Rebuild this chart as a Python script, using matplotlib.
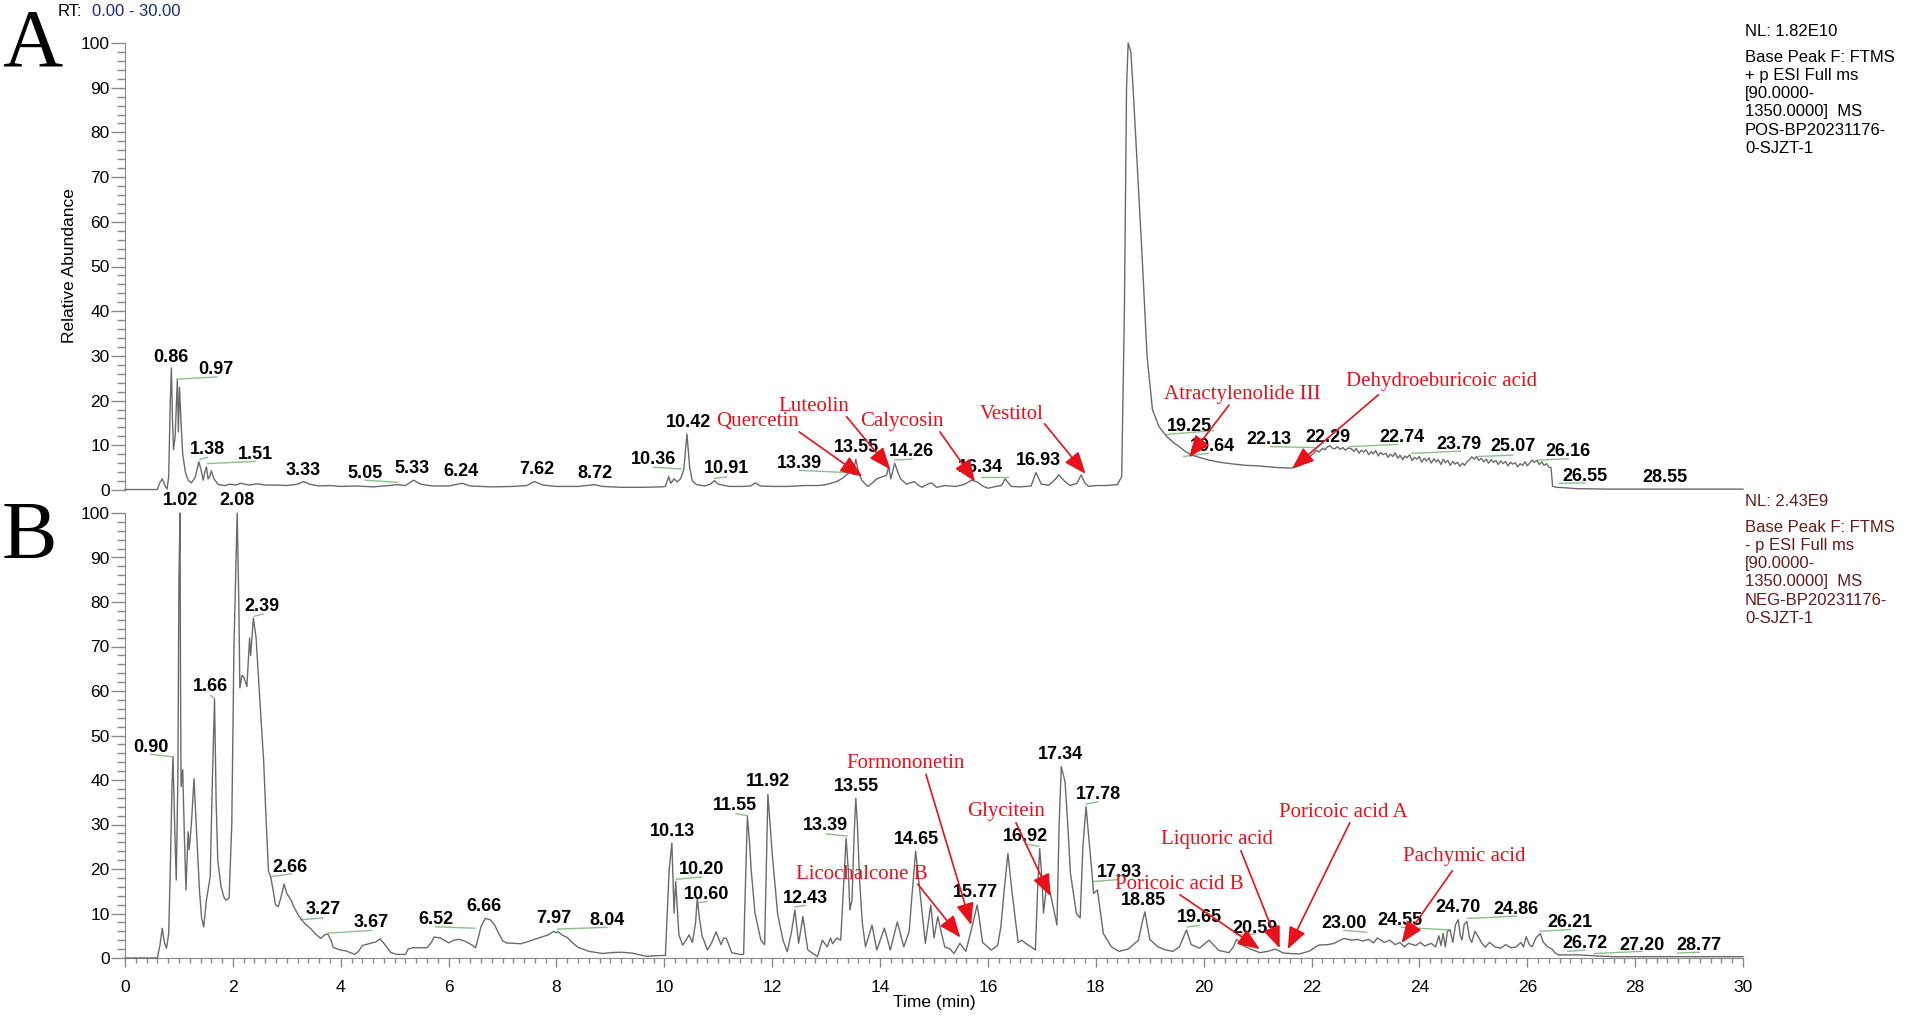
import matplotlib
matplotlib.use("Agg")
import matplotlib.pyplot as plt
from matplotlib.ticker import MultipleLocator

# ---------------- data: chromatogram A (positive mode) ----------------
tA = [0.00, 0.60, 0.64, 0.69, 0.74, 0.78, 0.81, 0.84, 0.86, 0.88, 0.90, 0.93, 0.97, 0.99, 1.01, 1.04,
      1.07, 1.12, 1.17, 1.23, 1.30, 1.37, 1.41, 1.45, 1.48, 1.51, 1.54, 1.57, 1.60, 1.65, 1.73, 1.85,
      1.95, 2.05, 2.15, 2.30, 2.45, 2.60, 2.80, 3.00, 3.20, 3.31, 3.42, 3.60, 3.80, 4.00, 4.30, 4.60,
      4.90, 5.05, 5.20, 5.35, 5.48, 5.70, 6.00, 6.25, 6.40, 6.80, 7.20, 7.45, 7.59, 7.75, 8.00, 8.40,
      8.70, 8.85, 9.20, 9.60, 9.95, 10.02, 10.08, 10.12, 10.18, 10.24, 10.30, 10.36, 10.42, 10.47,
      10.52, 10.60, 10.75, 10.85, 10.93, 11.00, 11.20, 11.45, 11.60, 11.69, 11.78, 12.00, 12.30,
      12.60, 12.85, 13.00, 13.20, 13.30, 13.38, 13.45, 13.50, 13.55, 13.60, 13.66, 13.77, 13.85,
      13.94, 14.05, 14.12, 14.16, 14.20, 14.27, 14.33, 14.38, 14.49, 14.63, 14.72, 14.78, 14.88,
      14.95, 15.05, 15.20, 15.40, 15.55, 15.70, 15.80, 15.90, 16.00, 16.15, 16.25, 16.32, 16.43,
      16.60, 16.80, 16.89, 16.99, 17.13, 17.25, 17.31, 17.42, 17.52, 17.65, 17.73, 17.80, 17.87,
      18.00, 18.20, 18.40, 18.48, 18.53, 18.57, 18.60, 18.65, 18.70, 18.78, 18.86, 18.95, 19.05,
      19.17, 19.32, 19.45, 19.55, 19.66, 19.78, 19.95, 20.09, 20.30, 20.56, 20.80, 21.00, 21.19,
      21.40, 21.62, 21.72, 21.80, 21.90, 21.98, 22.04, 22.09, 22.14, 22.20, 22.25, 22.29, 22.34,
      22.38, 22.43, 22.48, 22.53, 22.58, 22.63, 22.68, 22.74, 22.79, 22.83, 22.88, 22.92, 22.97,
      23.01, 23.06, 23.11, 23.14, 23.19, 23.24, 23.28, 23.33, 23.38, 23.42, 23.46, 23.51, 23.55,
      23.60, 23.64, 23.69, 23.73, 23.77, 23.82, 23.86, 23.91, 23.95, 24.00, 24.04, 24.09, 24.13,
      24.18, 24.22, 24.27, 24.31, 24.35, 24.40, 24.44, 24.48, 24.53, 24.57, 24.62, 24.66, 24.71,
      24.75, 24.80, 24.84, 24.88, 24.93, 24.97, 25.02, 25.06, 25.10, 25.15, 25.19, 25.24, 25.28,
      25.33, 25.37, 25.42, 25.46, 25.51, 25.55, 25.60, 25.64, 25.69, 25.73, 25.78, 25.82, 25.87,
      25.91, 25.96, 26.00, 26.05, 26.09, 26.13, 26.18, 26.22, 26.27, 26.31, 26.36, 26.40, 26.44,
      26.47, 26.55, 26.70, 26.90, 27.50, 30.00]
iA = [0.1, 0.1, 1.5, 2.5, 1.0, 0.2, 3.0, 20.0, 27.3, 16.0, 9.0, 12.0, 24.6, 13.0, 23.0, 15.0,
      8.0, 4.0, 2.2, 1.6, 2.8, 6.3, 4.5, 2.2, 4.0, 5.2, 2.5, 3.0, 4.3, 2.5, 1.2, 1.0,
      1.3, 1.1, 1.5, 1.1, 1.4, 1.1, 1.1, 1.0, 1.3, 1.9, 1.3, 0.9, 1.0, 0.8, 0.9, 0.7,
      1.0, 1.2, 1.0, 2.2, 1.3, 0.9, 0.9, 1.5, 0.9, 0.7, 0.8, 1.0, 1.9, 1.1, 0.8, 0.8,
      1.2, 0.8, 0.6, 0.6, 0.7, 0.8, 3.0, 1.5, 2.5, 1.8, 2.5, 4.5, 12.5, 5.0,
      2.0, 1.2, 0.9, 1.3, 2.1, 1.3, 0.8, 0.8, 0.9, 1.6, 0.9, 0.8, 0.8,
      1.0, 1.0, 1.2, 1.9, 2.6, 3.4, 4.2, 3.5, 6.9, 4.0, 2.2, 0.8, 1.5,
      2.5, 3.0, 3.3, 5.2, 2.5, 6.0, 4.0, 2.5, 1.3, 1.9, 1.0, 0.6, 1.3,
      1.6, 0.6, 1.0, 0.8, 1.2, 2.2, 1.8, 0.9, 0.4, 0.8, 1.0, 2.5, 0.8,
      0.7, 0.9, 3.9, 1.3, 1.1, 2.4, 3.4, 2.0, 1.0, 1.5, 3.4, 1.5, 0.8,
      1.0, 1.0, 1.2, 3.0, 40.0, 90.0, 100.0, 98.0, 88.0, 70.0, 52.0, 30.0, 18.0,
      14.2, 11.9, 10.5, 9.7, 8.6, 7.8, 7.2, 6.7, 6.2, 5.8, 5.5, 5.4, 5.2,
      5.0, 4.9, 5.2, 5.6, 6.8, 7.6, 8.2, 8.9, 8.5, 9.3, 9.0, 9.6, 9.9,
      9.4, 9.2, 9.7, 9.1, 9.5, 8.9, 9.4, 9.2, 8.6, 9.3, 8.2, 8.9, 8.5,
      9.0, 7.9, 8.6, 8.1, 8.8, 7.6, 8.4, 7.9, 8.2, 7.3, 8.0, 7.5, 8.3,
      7.1, 7.8, 6.8, 7.6, 7.2, 7.9, 6.6, 7.3, 6.9, 7.5, 6.2, 7.1, 6.5,
      7.2, 6.0, 7.0, 6.3, 6.8, 5.7, 6.9, 6.1, 6.6, 5.5, 6.4, 5.8, 6.2,
      5.3, 6.0, 5.5, 6.3, 6.8, 7.4, 6.9, 7.5, 6.6, 7.1, 6.3, 6.9, 6.0,
      6.8, 6.2, 6.6, 5.7, 6.5, 5.9, 6.4, 5.4, 6.2, 5.8, 6.1, 5.2, 5.9,
      5.5, 6.3, 5.4, 6.1, 6.7, 6.2, 6.6, 5.7, 6.3, 5.5, 5.9, 5.1, 5.0,
      0.8, 0.6, 0.5, 0.3, 0.2, 0.2]

# ---------------- data: chromatogram B (negative mode) ----------------
tB = [0.00, 0.60, 0.65, 0.69, 0.73, 0.77, 0.81, 0.84, 0.87, 0.89, 0.92, 0.95, 0.98, 1.00, 1.02, 1.03,
      1.04, 1.07, 1.10, 1.13, 1.17, 1.19, 1.23, 1.28, 1.32, 1.38, 1.42, 1.46, 1.51, 1.58, 1.62, 1.66,
      1.69, 1.72, 1.78, 1.84, 1.88, 1.93, 1.98, 2.02, 2.08, 2.11, 2.13, 2.17, 2.20, 2.26, 2.31, 2.33,
      2.38, 2.43, 2.48, 2.53, 2.57, 2.62, 2.66, 2.70, 2.75, 2.79, 2.84, 2.90, 2.95, 3.00, 3.08, 3.13,
      3.22, 3.33, 3.45, 3.55, 3.63, 3.70, 3.76, 3.82, 3.86, 3.99, 4.10, 4.26, 4.33, 4.40, 4.55, 4.65,
      4.73, 4.82, 4.93, 5.05, 5.20, 5.25, 5.33, 5.60, 5.68, 5.73, 5.85, 6.00, 6.10, 6.20, 6.30, 6.45,
      6.50, 6.56, 6.60, 6.68, 6.77, 6.85, 6.93, 7.00, 7.07, 7.20, 7.34, 7.50, 7.67, 7.85, 7.95, 7.99,
      8.03, 8.10, 8.20, 8.30, 8.40, 8.60, 8.86, 9.00, 9.20, 9.40, 9.66, 10.02, 10.09, 10.14, 10.18,
      10.21, 10.27, 10.34, 10.40, 10.46, 10.52, 10.58, 10.61, 10.65, 10.70, 10.80, 10.88, 10.96,
      11.05, 11.10, 11.15, 11.25, 11.40, 11.47, 11.50, 11.54, 11.58, 11.61, 11.68, 11.79, 11.86,
      11.89, 11.92, 11.96, 12.00, 12.10, 12.20, 12.28, 12.36, 12.42, 12.49, 12.57, 12.66, 12.84,
      12.93, 13.02, 13.08, 13.12, 13.20, 13.27, 13.33, 13.37, 13.41, 13.44, 13.48, 13.52, 13.55,
      13.58, 13.62, 13.67, 13.73, 13.85, 13.94, 14.08, 14.19, 14.32, 14.44, 14.54, 14.59, 14.66,
      14.73, 14.80, 14.84, 14.94, 15.00, 15.07, 15.14, 15.20, 15.30, 15.37, 15.48, 15.59, 15.70,
      15.80, 15.85, 15.90, 16.06, 16.18, 16.24, 16.30, 16.37, 16.45, 16.56, 16.63, 16.70, 16.80,
      16.88, 16.92, 16.96, 17.00, 17.03, 17.10, 17.17, 17.28, 17.32, 17.36, 17.43, 17.48, 17.53,
      17.64, 17.71, 17.76, 17.82, 17.87, 17.93, 17.96, 18.03, 18.14, 18.29, 18.43, 18.60, 18.79,
      18.86, 18.91, 19.00, 19.15, 19.30, 19.43, 19.55, 19.62, 19.68, 19.77, 19.92, 20.10, 20.28,
      20.47, 20.55, 20.61, 20.70, 20.83, 21.04, 21.19, 21.33, 21.48, 21.77, 21.95, 22.13, 22.30,
      22.42, 22.60, 22.75, 22.85, 22.95, 23.06, 23.15, 23.22, 23.35, 23.45, 23.55, 23.64, 23.72,
      23.80, 23.93, 24.02, 24.10, 24.22, 24.30, 24.36, 24.40, 24.44, 24.48, 24.52, 24.57, 24.62,
      24.67, 24.72, 24.76, 24.79, 24.83, 24.88, 24.93, 24.97, 25.03, 25.08, 25.15, 25.22, 25.30,
      25.40, 25.51, 25.60, 25.70, 25.80, 25.88, 25.93, 25.98, 26.04, 26.09, 26.16, 26.24, 26.30,
      26.38, 26.46, 26.52, 26.58, 26.95, 27.38, 27.60, 30.00]
iB = [0.0, 0.0, 3.0, 6.7, 3.5, 2.2, 5.4, 20.0, 38.0, 45.2, 30.0, 17.5, 40.0, 85.0, 100.0, 60.0,
      38.5, 42.3, 28.0, 15.3, 28.4, 24.3, 30.0, 40.3, 30.0, 15.3, 9.0, 7.0, 13.0, 18.3, 40.0, 58.1,
      35.0, 22.0, 16.0, 13.5, 13.0, 13.5, 30.0, 70.0, 100.0, 80.0, 60.7, 63.5, 63.2, 61.0, 71.9, 68.0,
      76.4, 72.0, 62.0, 52.0, 44.5, 30.0, 19.5, 18.3, 15.0, 12.0, 11.5, 14.0, 16.6, 14.5, 13.0, 11.5,
      9.5, 7.8, 6.5, 5.2, 4.4, 5.2, 5.4, 4.0, 2.4, 1.8, 1.6, 0.8, 1.5, 2.8, 3.3, 3.6,
      4.3, 3.0, 1.2, 0.8, 0.8, 2.0, 2.3, 2.3, 3.5, 4.7, 4.5, 3.4, 4.0, 4.2, 3.8, 2.8,
      2.3, 5.0, 7.0, 8.9, 8.6, 7.5, 5.5, 3.9, 3.4, 3.3, 3.2, 3.8, 4.5, 5.2, 6.0, 5.7,
      5.9, 5.2, 4.6, 3.4, 2.4, 1.5, 1.0, 1.2, 1.3, 1.1, 0.4, 0.6, 20.0, 25.8, 10.1,
      17.2, 5.2, 2.9, 4.0, 5.2, 3.5, 8.0, 13.4, 9.0, 5.0, 1.8, 3.5, 5.9,
      3.0, 4.5, 4.4, 1.2, 0.8, 0.8, 15.0, 31.8, 26.0, 19.8, 10.1, 4.0, 3.0,
      20.0, 36.8, 30.0, 23.5, 10.0, 4.0, 1.4, 6.0, 10.8, 3.3, 9.3, 1.8, 0.3,
      4.0, 2.5, 4.5, 3.2, 4.5, 4.0, 18.0, 26.9, 20.0, 10.8, 13.0, 28.0, 35.9,
      30.0, 17.5, 8.0, 2.5, 7.4, 1.8, 6.7, 1.8, 8.1, 2.5, 6.0, 13.8, 24.0,
      16.0, 8.0, 3.3, 11.9, 4.5, 9.3, 5.5, 2.5, 2.0, 1.0, 3.3, 1.5, 6.7,
      11.9, 8.0, 3.5, 1.8, 2.8, 7.0, 15.0, 23.5, 14.5, 3.5, 4.0, 3.3, 2.5,
      1.8, 15.0, 24.6, 18.0, 10.1, 17.5, 13.8, 7.4, 30.0, 43.0, 39.6, 30.0, 19.0,
      10.0, 9.0, 25.0, 34.0, 27.0, 19.0, 14.5, 15.3, 5.5, 2.5, 1.5, 2.0, 4.0,
      8.0, 10.4, 4.2, 2.5, 1.8, 1.5, 2.5, 4.5, 6.3, 3.0, 2.2, 4.0, 1.7,
      1.2, 2.5, 4.2, 3.0, 2.2, 1.2, 1.5, 2.0, 1.1, 0.9, 1.5, 2.9, 3.0,
      3.3, 4.4, 4.0, 4.2, 3.8, 4.2, 3.4, 4.5, 3.5, 4.0, 3.0, 3.5, 2.5,
      3.3, 2.8, 3.5, 2.7, 3.3, 2.5, 5.0, 2.8, 5.5, 2.5, 6.0, 6.3, 3.5,
      7.5, 8.6, 5.0, 4.0, 7.5, 8.2, 4.5, 3.5, 6.0, 5.0, 3.5, 2.4, 3.5,
      2.5, 2.2, 3.0, 2.3, 2.5, 3.5, 2.5, 4.8, 3.0, 2.5, 4.5, 5.5, 3.5,
      2.5, 2.0, 1.1, 0.7, 0.7, 0.4, 0.3, 0.3]

# ---------------- peak labels ----------------
A_lab_text = ["0.86", "0.97", "1.38", "1.51", "3.33", "5.05", "5.33", "6.24", "7.62", "8.72",
              "10.36", "10.42", "10.91", "13.39", "13.55", "14.26", "16.34", "16.93", "19.25",
              "19.64", "22.13", "22.29", "22.74", "23.79", "25.07", "26.16", "26.55", "28.55"]
A_lab_t = [0.85, 1.69, 1.52, 2.41, 3.31, 4.45, 5.33, 6.23, 7.63, 8.72, 9.80, 10.44, 11.15, 12.50,
           13.56, 14.59, 15.87, 16.93, 19.73, 20.16, 21.21, 22.31, 23.67, 24.73, 25.74, 26.76,
           27.07, 28.55]
A_lab_I = [29.7, 27.0, 9.0, 8.0, 4.3, 3.7, 4.8, 4.1, 4.5, 3.7, 6.9, 15.1, 4.8, 6.0, 9.5, 8.6,
           5.1, 6.7, 14.3, 9.7, 11.3, 11.8, 11.8, 10.1, 9.7, 8.6, 3.1, 2.8]
A_lead = [(0.96, 24.8, 1.70, 25.3), (1.39, 6.9, 1.53, 7.3), (1.53, 5.9, 2.41, 6.4),
          (4.45, 2.2, 5.05, 1.7), (9.80, 5.1, 10.31, 4.7), (10.93, 2.6, 11.15, 2.9),
          (12.50, 4.4, 13.38, 3.9), (14.27, 6.7, 14.59, 6.9), (15.87, 3.0, 16.37, 3.0),
          (19.30, 12.4, 20.18, 13.3), (19.63, 7.5, 20.08, 8.2), (21.24, 9.7, 22.06, 9.5),
          (22.70, 9.7, 23.60, 10.2), (23.86, 8.2, 24.76, 8.7), (25.10, 7.5, 25.73, 7.8),
          (26.20, 6.7, 26.76, 7.0), (26.60, 1.5, 27.07, 1.6)]

B_lab_text = ["0.90", "1.02", "1.66", "2.08", "2.39", "2.66", "3.27", "3.67", "6.52", "6.66",
              "7.97", "8.04", "10.13", "10.20", "10.60", "11.55", "11.92", "12.43", "13.39",
              "13.55", "14.65", "15.77", "16.92", "17.34", "17.78", "17.93", "18.85", "19.65",
              "20.59", "23.00", "24.55", "24.70", "24.86", "26.21", "26.72", "27.20", "28.77"]
B_lab_t = [0.48, 1.02, 1.59, 2.07, 2.54, 3.05, 3.68, 4.57, 5.76, 6.66, 7.95, 8.94, 10.15, 10.69,
           10.79, 11.30, 11.92, 12.61, 12.99, 13.57, 14.67, 15.77, 16.69, 17.35, 18.04, 18.43,
           18.88, 19.92, 20.95, 22.60, 23.64, 24.72, 25.79, 26.80, 27.07, 28.13, 29.19]
B_lab_I = [47.3, 102.9, 61.0, 102.9, 78.9, 20.4, 10.8, 7.9, 8.7, 11.5, 8.9, 8.5, 28.4, 19.8,
           14.2, 34.2, 39.6, 13.4, 29.7, 38.5, 26.7, 14.7, 27.3, 45.8, 36.8, 19.2, 12.9, 9.1,
           6.7, 7.8, 8.4, 11.4, 10.9, 7.9, 3.3, 2.9, 2.7]
B_lead = [(0.48, 45.8, 0.89, 45.2), (1.59, 59.0, 1.66, 58.3), (2.40, 76.8, 2.56, 77.3),
          (2.71, 18.3, 3.08, 18.9), (3.26, 8.6, 3.67, 9.0), (3.77, 5.6, 4.57, 6.2),
          (5.76, 7.0, 6.49, 6.7), (8.02, 6.5, 8.94, 6.9), (10.22, 17.7, 10.69, 18.2),
          (10.62, 12.4, 10.79, 12.7), (11.33, 32.4, 11.54, 32.0), (12.42, 11.5, 12.61, 11.8),
          (13.00, 27.9, 13.39, 27.4), (16.69, 25.6, 16.94, 25.1), (17.82, 34.6, 18.04, 35.1),
          (17.96, 17.2, 18.40, 17.6), (19.70, 7.0, 19.92, 7.3), (20.60, 5.2, 20.95, 5.4),
          (22.60, 6.2, 23.02, 5.8), (23.67, 6.9, 24.57, 6.3), (24.90, 8.9, 25.80, 9.4),
          (26.24, 6.0, 26.80, 6.4), (26.75, 1.5, 27.07, 1.8), (27.24, 1.0, 28.13, 1.5),
          (28.78, 1.1, 29.19, 1.3)]

# ---------------- compound annotations ----------------
A_names = ["Quercetin", "Luteolin", "Calycosin", "Vestitol", "Atractylenolide III",
           "Dehydroeburicoic acid"]
A_name_pos = [(11.73, 15.3), (12.77, 18.6), (14.41, 15.3), (16.44, 16.8), (20.72, 21.3),
              (24.42, 24.2)]
A_tail = [(12.50, 13.0), (13.38, 16.4), (15.11, 13.0), (17.05, 14.8), (20.47, 19.0),
          (23.24, 21.3)]
A_head = [(13.67, 3.0), (14.19, 4.6), (15.76, 1.9), (17.81, 3.6), (19.73, 7.3), (21.64, 4.8)]

B_names = ["Licochalcone B", "Formononetin", "Glycitein", "Poricoic acid B", "Liquoric acid",
           "Poricoic acid A", "Pachymic acid"]
B_name_pos = [(13.66, 18.7), (14.47, 43.7), (16.34, 33.0), (19.55, 16.5), (20.25, 26.7),
              (22.59, 32.7), (24.84, 22.8)]
B_tail = [(14.70, 16.6), (14.85, 41.3), (16.52, 30.4), (19.56, 14.2), (20.69, 24.1),
          (22.71, 30.4), (24.61, 19.6)]
B_head = [(15.49, 4.6), (15.69, 7.4), (17.16, 13.9), (21.04, 2.0), (21.41, 2.2),
          (21.56, 2.0), (23.67, 3.4)]

info_A = ["Base Peak F: FTMS", "+ p ESI Full ms", "[90.0000-", "1350.0000]  MS",
          "POS-BP20231176-", "0-SJZT-1"]
info_B = ["Base Peak F: FTMS", "- p ESI Full ms", "[90.0000-", "1350.0000]  MS",
          "NEG-BP20231176-", "0-SJZT-1"]
NL_A = "NL: 1.82E10"
NL_B = "NL: 2.43E9"

# ---------------- figure ----------------
W, H = 1908, 1017
fig = plt.figure(figsize=(W / 100, H / 100), dpi=100)
SANS = ["Liberation Sans", "DejaVu Sans"]
SERIF = ["Liberation Serif", "DejaVu Serif"]
plt.rcParams["font.family"] = SANS

def fx(px):
    return px / W

def fy(py):
    return 1 - py / H

L, R = 125, 1743
axA = fig.add_axes([fx(L), fy(490), (R - L) / W, (490 - 43) / H])
axB = fig.add_axes([fx(L), fy(958), (R - L) / W, (958 - 513) / H])

TRACE = "#6a6a6a"
SPINE = "#8a8a8a"
GREEN = "#8cbf8c"
RED = "#e8101a"

for ax in (axA, axB):
    ax.set_xlim(0, 30)
    ax.set_ylim(0, 100)
    for s in ("top", "right"):
        ax.spines[s].set_visible(False)
    ax.spines["left"].set_color(SPINE)
    ax.spines["bottom"].set_color(SPINE)
    ax.yaxis.set_major_locator(MultipleLocator(10))
    ax.yaxis.set_minor_locator(MultipleLocator(2))
    ax.tick_params(axis="y", which="major", direction="out", length=10, width=1,
                   color=SPINE, labelsize=12.5, pad=1, labelcolor="black")
    ax.tick_params(axis="y", which="minor", direction="out", length=5.5, width=1, color=SPINE)
    ax.set_facecolor("none")

axA.spines["bottom"].set_visible(False)
axA.tick_params(axis="x", which="both", bottom=False, labelbottom=False)
axB.xaxis.set_major_locator(MultipleLocator(2))
axB.xaxis.set_minor_locator(MultipleLocator(0.2))
axB.tick_params(axis="x", which="major", direction="out", length=6.5, width=1, color=SPINE,
                labelsize=12.5, pad=9)
axB.tick_params(axis="x", which="minor", direction="out", length=3.5, width=1, color=SPINE)

axA.plot(tA, iA, color=TRACE, lw=1.0, clip_on=False, zorder=3)
axB.plot(tB, iB, color=TRACE, lw=1.0, clip_on=False, zorder=3)

def draw_labels(ax, texts, ts, Is, leads):
    for (t1, i1, t2, i2) in leads:
        ax.plot([t1, t2], [i1, i2], color=GREEN, lw=1.0, clip_on=False, zorder=2)
    for s, t, i in zip(texts, ts, Is):
        ax.text(t, i, s, ha="center", va="center", fontsize=13, fontweight="bold",
                color="black", zorder=5)

draw_labels(axA, A_lab_text, A_lab_t, A_lab_I, A_lead)
draw_labels(axB, B_lab_text, B_lab_t, B_lab_I, B_lead)

def draw_compounds(ax, names, pos, tails, heads):
    for n, p, tl, hd in zip(names, pos, tails, heads):
        ax.text(p[0], p[1], n, ha="center", va="center", fontsize=15, family=SERIF,
                color=RED, zorder=6)
        ax.annotate("", xy=hd, xytext=tl,
                    arrowprops=dict(arrowstyle="-|>,head_length=0.75,head_width=0.3",
                                    color=RED, lw=1.2, shrinkA=0, shrinkB=0,
                                    mutation_scale=18),
                    annotation_clip=False, zorder=6)

draw_compounds(axA, A_names, A_name_pos, A_tail, A_head)
draw_compounds(axB, B_names, B_name_pos, B_tail, B_head)

# panel letters
fig.text(fx(2), fy(65), "A", family=SERIF, fontsize=60, ha="left", va="baseline")
fig.text(fx(2), fy(558), "B", family=SERIF, fontsize=60, ha="left", va="baseline")

# header
fig.text(fx(58), fy(12), "RT:", fontsize=12, ha="left", va="center", color="black")
fig.text(fx(92), fy(12), "0.00 - 30.00", fontsize=12, ha="left", va="center", color="#1c2a7a")

# axis titles
fig.text(fx(70), fy(266), "Relative Abundance", rotation=90, fontsize=12.5,
         ha="center", va="center")
fig.text(fx(934), fy(1003), "Time (min)", fontsize=12.5, ha="center", va="center")

# info blocks
def info(nl, lines, y0, color):
    fig.text(fx(1745), fy(y0), nl, fontsize=12, ha="left", va="center", color=color)
    for k, s in enumerate(lines):
        fig.text(fx(1745), fy(y0 + 25 + 18.3 * k), s, fontsize=12, ha="left", va="center",
                 color=color)

info(NL_A, info_A, 32, "black")
info(NL_B, info_B, 502, "#651a1a")

fig.savefig("out.png", dpi=100)
